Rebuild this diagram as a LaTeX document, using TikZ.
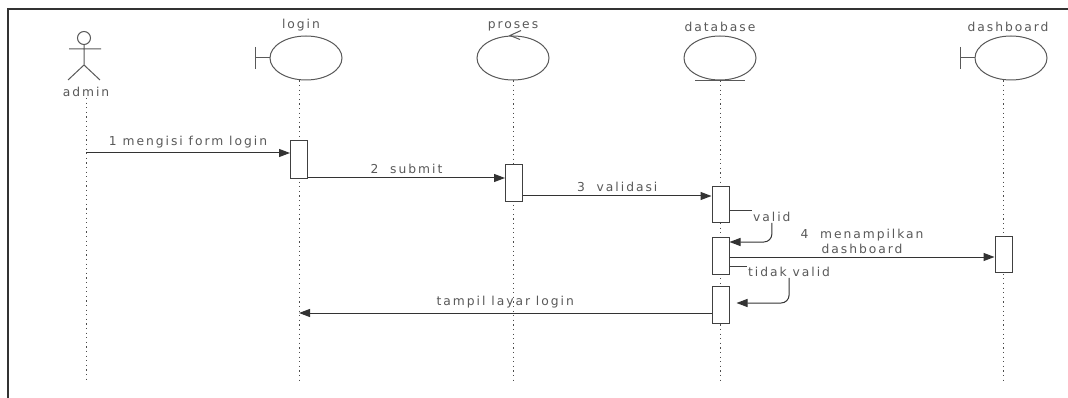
\documentclass[tikz,border=0pt]{standalone}
\usepackage{fontspec}
\newfontfamily\umlfont[LetterSpace=16]{DejaVu Sans}
\usetikzlibrary{arrows.meta}
\usetikzlibrary{shapes.geometric}
\usetikzlibrary{positioning}
\usetikzlibrary{calc}

\tikzset{
  lbl/.style={font=\umlfont\fontsize{12.3}{15}\selectfont, text=black!65, inner sep=1pt},
  objell/.style={draw=black!65, line width=1pt, ellipse, minimum width=72pt, minimum height=44pt, inner sep=0pt},
  lifeline/.style={black!70, line width=1pt, dash pattern=on 1.2pt off 3.4pt},
  actbox/.style={draw=black!75, fill=white, line width=1pt, minimum width=17pt, inner sep=0pt},
  msg/.style={draw=black!80, line width=1pt, -{Triangle[length=11pt,width=8pt]}},
  plain/.style={draw=black!75, line width=1pt}
}

\begin{document}
\begin{tikzpicture}[x=1pt,y=-1pt]
      \useasboundingbox (0,0) rectangle (1068,398);
      \fill[white] (0,0) rectangle (1068,398);
      \draw[black!80, line width=1.2pt] (8,398) -- (8,9) -- (1068,9);

      % actor
      \draw[plain, black!65] (84,38) circle (6.5);
      \draw[plain, black!65] (84,45) -- (84,65) (69,49) -- (101,49)
        (68,80) -- (84,65) -- (100,80);
      \node[lbl] (admin) at (86,92) {admin};

      % objects
      \node[objell] (login) at (306,58) {};
      \draw[plain, black!65] (login.west) -- ++(-14,0) coordinate (loginBar);
      \draw[plain, black!65] ($(loginBar)+(0,-11)$) -- ($(loginBar)+(0,11)$);
      \node[lbl, above=3pt of login, xshift=-5pt] {login};

      \node[objell] (proses) at (513,58) {};
      \draw[plain, black!65] ($(proses.north)+(8,-5)$) -- ($(proses.north)+(-3,0)$) -- ($(proses.north)+(7,4)$);
      \node[lbl, above=3pt of proses] {proses};

      \node[objell] (db) at (720,58) {};
      \draw[plain, black!65] ($(db.south)+(-25,0)$) -- ($(db.south)+(25,0)$);
      \node[lbl, above=3pt of db] {database};

      \node[objell] (dash) at (1011,58) {};
      \draw[plain, black!65] (dash.west) -- ++(-14,0) coordinate (dashBar);
      \draw[plain, black!65] ($(dashBar)+(0,-11)$) -- ($(dashBar)+(0,11)$);
      \node[lbl, above=3pt of dash, xshift=-3pt] {dashboard};

      % lifelines
      \coordinate (adminEnd) at (86,383);
      \coordinate (loginTop) at ($(login.south)+(-7,0)$);
      \coordinate (dashTop) at ($(dash.south)+(-8,0)$);
      \draw[lifeline] (admin.south) -- (adminEnd);
      \draw[lifeline] (loginTop) -- (loginTop |- adminEnd);
      \draw[lifeline] (proses.south) -- (proses.south |- adminEnd);
      \draw[lifeline] (db.south) -- (db.south |- adminEnd);
      \draw[lifeline] (dashTop) -- (dashTop |- adminEnd);

      % activations
      \node[actbox, minimum height=38pt] (actLogin) at (299,160) {};
      \node[actbox, minimum height=37pt] (actProses) at (514,183.5) {};
      \node[actbox, minimum height=36pt] (actDb1) at (720.5,205) {};
      \node[actbox, minimum height=37pt] (actDb2) at (720.5,255.5) {};
      \node[actbox, minimum height=36pt] (actDash) at (1003.5,254) {};
      \node[actbox, minimum height=37pt] (actDb3) at (720.5,304.5) {};

      % messages
      \draw[msg] (admin |- 0,153) -- node[lbl, above=3pt] {1 mengisi form login} (actLogin.west |- 0,153);
      \draw[msg] (actLogin.east |- 0,178) -- node[lbl, above=3pt] {2~ submit} (actProses.west |- 0,178);
      \draw[msg] (actProses.east |- 0,196) -- node[lbl, above=3pt] {3~ validasi} (actDb1.west |- 0,196);

      \node[lbl, anchor=west] (valid) at (752,217) {valid};
      \draw[plain] (actDb1.east |- 0,211) -- (valid.west |- 0,211);
      \draw[msg, rounded corners=8pt] (valid.south) |- (actDb2.east |- 0,242);

      \draw[msg] (actDb2.east |- 0,257) -- node[lbl, above=2pt, align=center] {4~ menampilkan\\dashboard} (actDash.west |- 0,257);

      \node[lbl, anchor=west] (notValid) at (747,272) {tidak valid};
      \draw[plain] (actDb2.east |- 0,266) -- (notValid.west |- 0,266);
      \draw[msg, rounded corners=8pt, shorten >=7pt] (notValid.south) |- (actDb3.east |- 0,303);

      \draw[msg] (actDb3.west |- 0,313) -- node[lbl, above=3pt] {tampil layar login} (loginTop |- 0,313);
\end{tikzpicture}
\end{document}
